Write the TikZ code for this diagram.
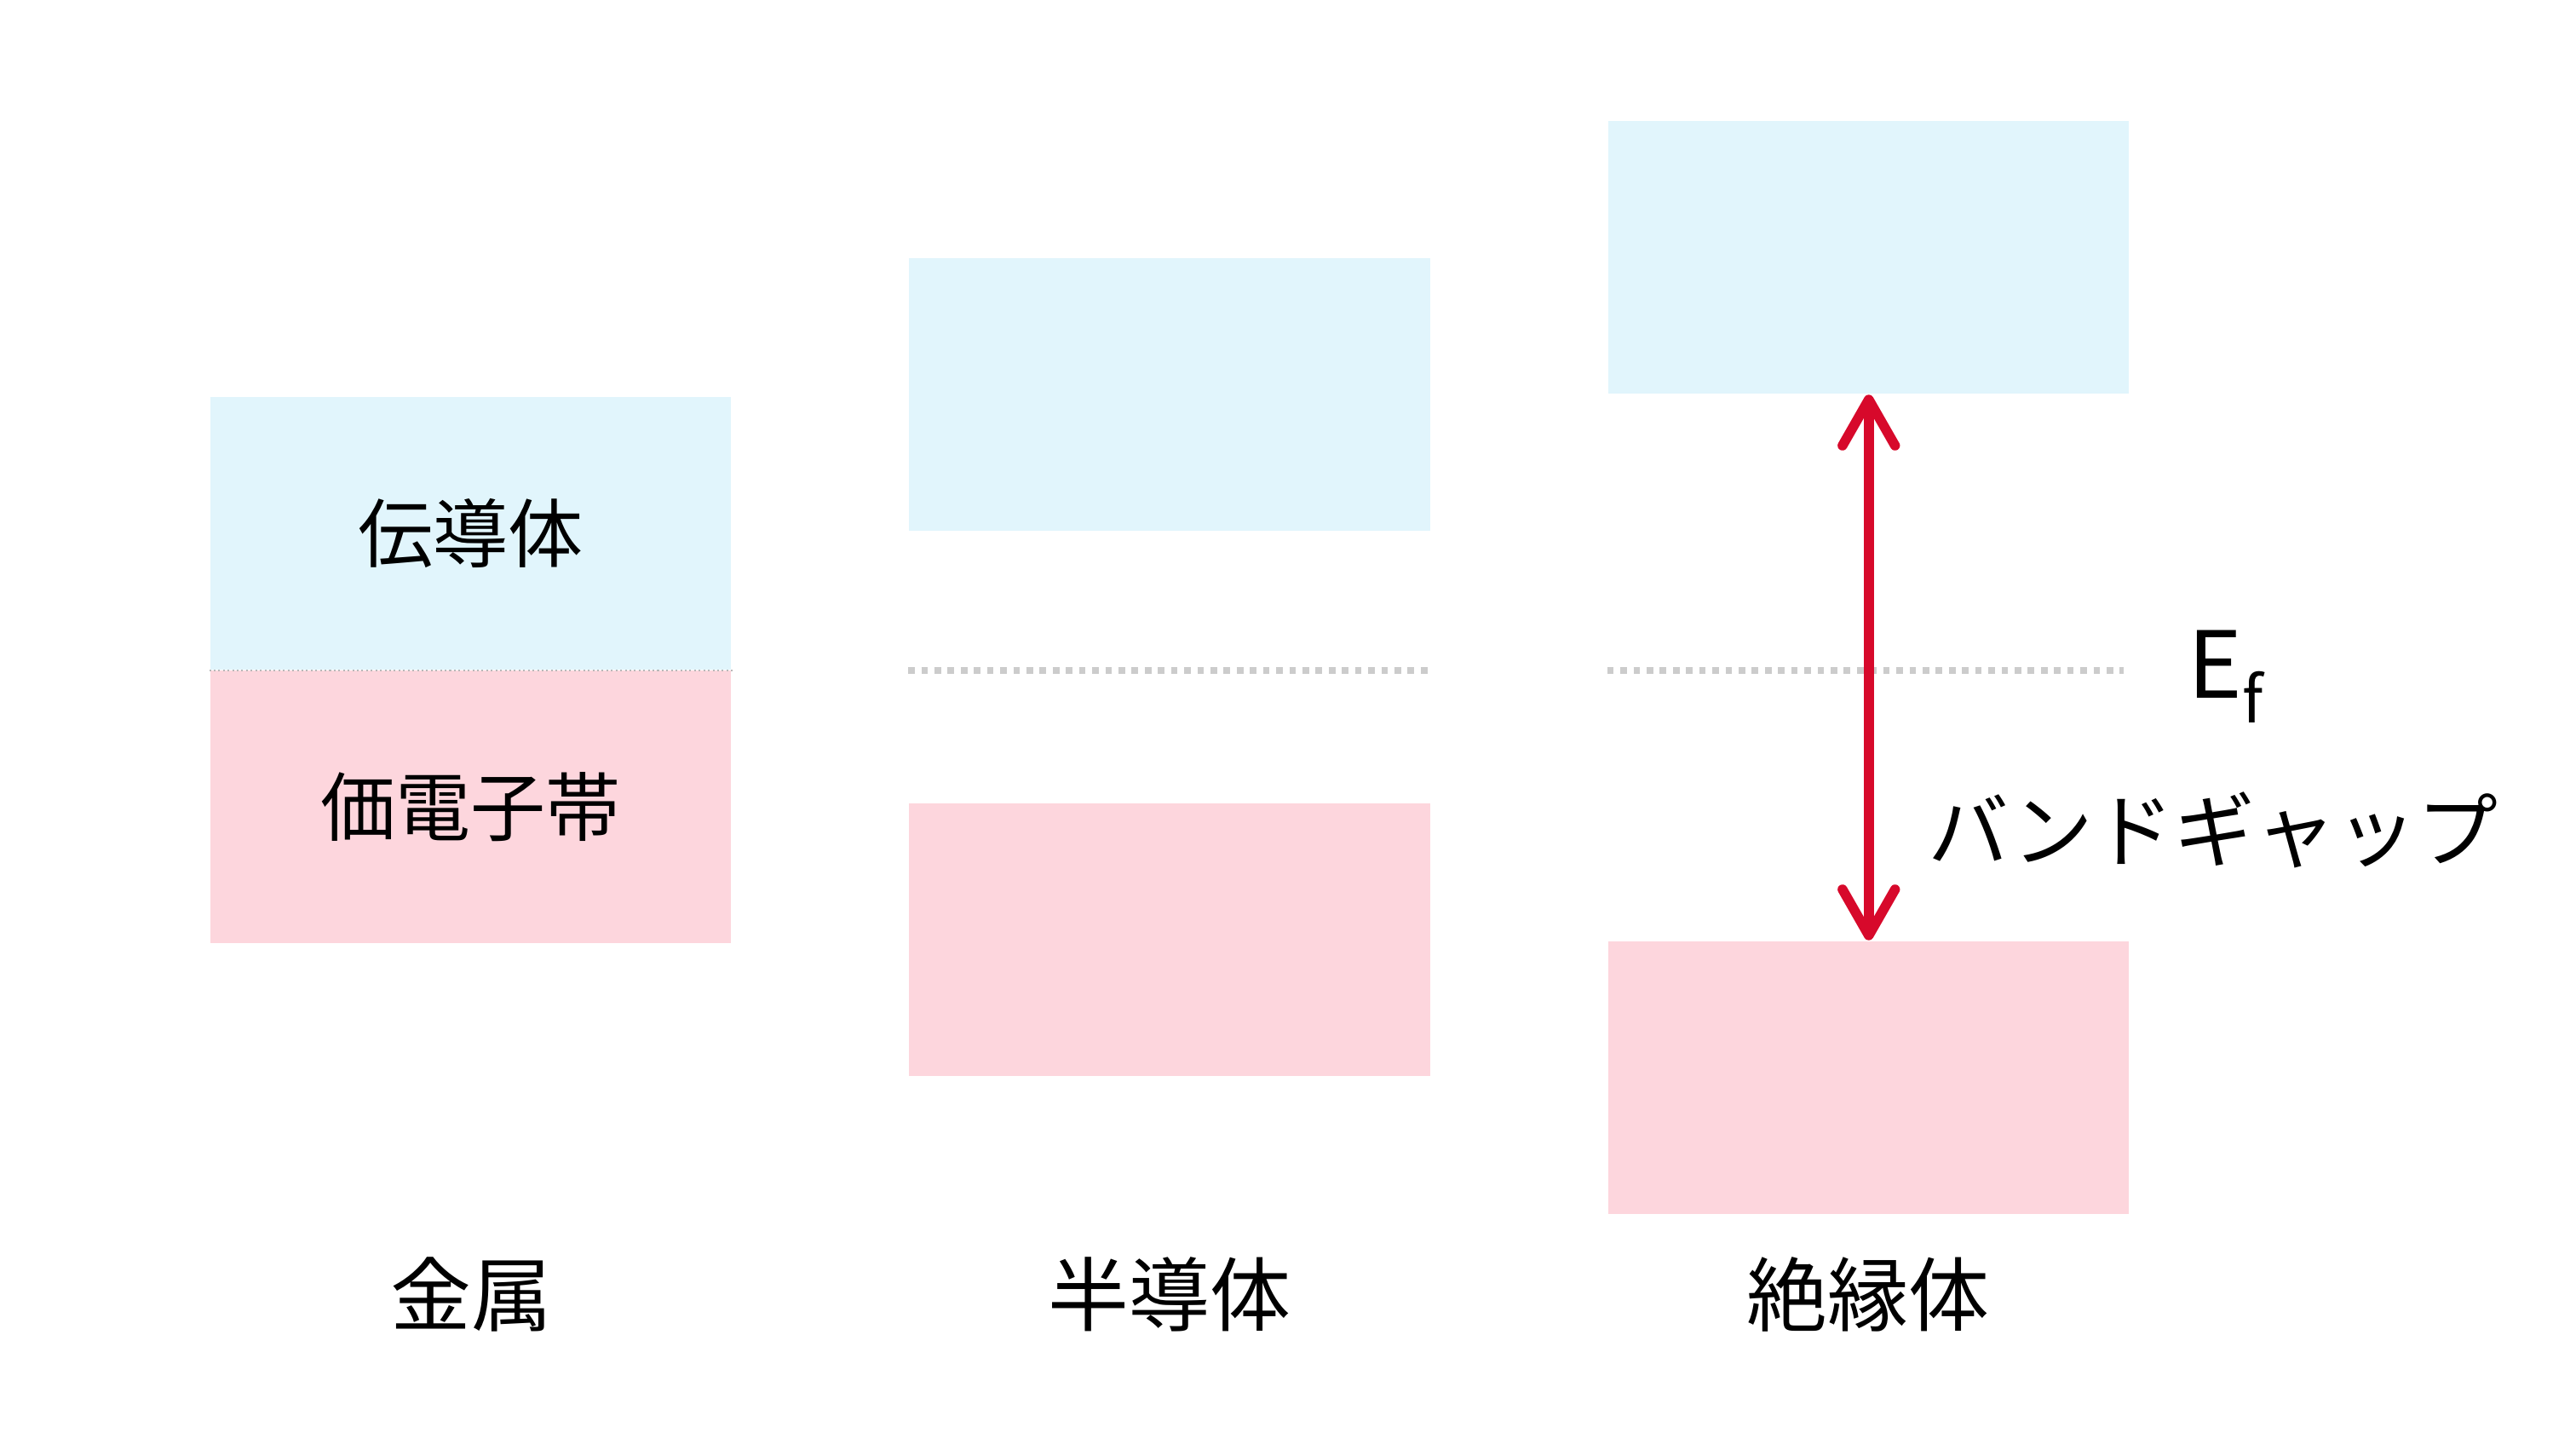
\documentclass[tikz,border=0pt]{standalone}
\usepackage{fontspec}
\setmainfont{Noto Sans CJK JP}
\usepackage{xcolor}
\usepackage{tikz}
\usetikzlibrary{positioning, arrows.meta, calc}
\definecolor{bandblue}{HTML}{E1F5FC}
\definecolor{bandpink}{HTML}{FDD6DD}
\definecolor{gapred}{HTML}{D7092B}
\definecolor{fermigray}{HTML}{CCCCCC}

\begin{document}
\begin{tikzpicture}
    \tikzset{
      band/.style={inner sep=0pt, minimum width=3.17cm, minimum height=1.66cm},
      cband/.style={band, fill=bandblue},
      vband/.style={band, fill=bandpink},
      efline/.style={draw=fermigray, line width=0.4mm, dash pattern=on 0.4mm off 0.4mm},
      gaparrow/.style={gapred, line width=1.7pt,
        {Straight Barb[round, length=2.8mm, width=3.2mm]}-{Straight Barb[round, length=2.8mm, width=3.2mm]}},
      matlabel/.style={font=\fontsize{14}{16}\selectfont}
    }
    \useasboundingbox (0,0) rectangle (15.68,8.82);

    \node[cband] (metal-cb) at (2.865,5.575) {\fontsize{13}{15}\selectfont 伝導体};
    \node[vband] (metal-vb) at (2.865,3.91) {\fontsize{13}{15}\selectfont 価電子帯};
    \node[cband] (semi-cb) at (7.12,6.42) {};
    \node[vband] (semi-vb) at (7.12,3.10) {};
    \node[cband] (ins-cb) at (11.375,7.255) {};
    \node[vband] (ins-vb) at (11.375,2.26) {};

    \draw[fermigray!90!black, line width=0.3pt, dash pattern=on 0.3pt off 0.5pt]
      (metal-cb.south west) -- (metal-cb.south east);
    \draw[efline] (semi-cb.west |- metal-cb.south) -- ($(semi-cb.east |- metal-cb.south)+(-0.02,0)$);
    \draw[efline] (ins-cb.west |- metal-cb.south) -- ($(ins-cb.east |- metal-cb.south)+(-0.04,0)$);

    \draw[gaparrow] (ins-cb.south) -- (ins-vb.north);

    \node[anchor=base west, inner sep=0pt, font=\fontsize{16}{18}\selectfont] (ef) at (13.31,4.57)
      {E\raisebox{-4.3pt}{\fontsize{11}{12}\selectfont f}};
    \node[font=\fontsize{14}{16}\selectfont] (gap) at (13.47,3.77) {バンドギャップ};

    \node[matlabel] (metal) at (2.87,0.94) {金属};
    \node[matlabel] (semi) at (7.12,0.94) {半導体};
    \node[matlabel] (ins) at (11.37,0.94) {絶縁体};
  \end{tikzpicture}
\end{document}
